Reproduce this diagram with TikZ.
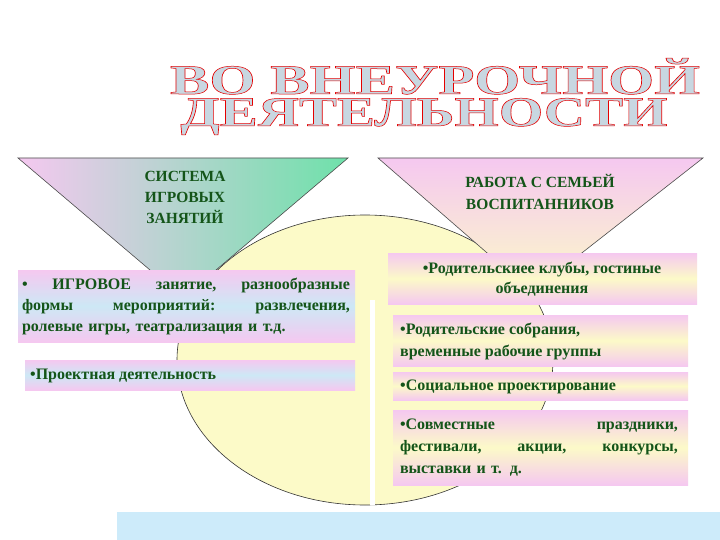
\documentclass[tikz,border=0pt]{standalone}
\usepackage{fontspec}
\setmainfont{Liberation Serif}
\usetikzlibrary{shadings}
\definecolor{tg}{RGB}{20,85,25}
\definecolor{pk}{RGB}{245,200,240}
\definecolor{lb}{RGB}{205,232,245}
\definecolor{yl}{RGB}{252,250,200}
\definecolor{tl}{RGB}{110,225,170}
\definecolor{bx}{RGB}{205,235,250}
\definecolor{tf}{RGB}{200,215,225}
\begin{document}
\begin{tikzpicture}[x=1pt,y=-1pt,
  txt/.style={text=tg,font=\bfseries\fontsize{16}{20}\selectfont,inner sep=0pt},
  lbox/.style={draw=none,top color=pk,bottom color=pk,middle color=lb},
  rbox/.style={draw=none,top color=pk,bottom color=pk,middle color=yl},
  tri/.style={draw=black!70,line width=0.6pt}]
\useasboundingbox (0,0) rectangle (720,540);
\fill[white] (0,0) rectangle (720,540);
% title
\node[inner sep=0pt,anchor=base] (t1) at (435,94) {\resizebox{530pt}{\height}{\fontsize{42}{42}\selectfont\color{tf}\special{pdf:code 2 Tr 0.5 w 0.9 0 0 RG}\bfseries ВО ВНЕУРОЧНОЙ\special{pdf:code 0 Tr}}};
\node[inner sep=0pt,anchor=base] (t2) at (424,126) {\resizebox{487pt}{\height}{\fontsize{42}{42}\selectfont\color{tf}\special{pdf:code 2 Tr 0.5 w 0.9 0 0 RG}\bfseries ДЕЯТЕЛЬНОСТИ\special{pdf:code 0 Tr}}};
% ellipse
\fill[yl] (365,360) ellipse [x radius=188, y radius=145];
\draw[black!80,line width=0.6pt] (365,360) ellipse [x radius=188, y radius=145];
\fill[white] (370,300) rectangle (375,505);
% triangles
\shade[shading angle=120,left color=pk,right color=tl] (18,158) -- (348,158) -- (183,298) -- cycle;
\draw[tri] (18,158) -- (348,158) -- (183,298) -- cycle;
\shade[top color=pk,bottom color=yl] (378,158) -- (703,158) -- (532,292) -- cycle;
\draw[tri] (378,158) -- (703,158) -- (532,292) -- cycle;
\node[txt,align=center,font=\bfseries\fontsize{15.5}{21}\selectfont] (tri1) at (185,197) {СИСТЕМА\\ИГРОВЫХ\\ЗАНЯТИЙ};
\node[txt,align=center,font=\bfseries\fontsize{15.5}{22}\selectfont] (tri2) at (540,192) {РАБОТА С СЕМЬЕЙ\\ВОСПИТАННИКОВ};
% left boxes
\shade[lbox] (18,270) rectangle (355,342);
\node[txt,text width=328pt,align=left,font=\bfseries\fontsize{16}{21}\selectfont] (l1) at (186,306) {•\hfill ИГРОВОЕ\hfill занятие,\hfill разнообразные\\формы\hfill мероприятий:\hfill развлечения,\\ролевые игры, театрализация и т.д.};
\shade[lbox] (25,360) rectangle (355,390);
\node[txt,anchor=west] (l2) at (30,376) {•Проектная деятельность};
% right boxes
\shade[rbox] (388,253) rectangle (697,304);
\node[txt,align=center,font=\bfseries\fontsize{16}{20}\selectfont] (r1) at (542,279) {•Родительскиее клубы, гостиные\\объединения};
\shade[rbox] (393,315) rectangle (688,366);
\node[txt,align=left,anchor=west,font=\bfseries\fontsize{16}{22}\selectfont] (r2) at (400,341) {•Родительские собрания,\\временные рабочие группы};
\shade[rbox] (393,372) rectangle (688,400);
\node[txt,anchor=west] (r3) at (400,387) {•Социальное проектирование};
\shade[rbox] (393,410) rectangle (688,485);
\node[txt,text width=278pt,align=left,font=\bfseries\fontsize{16}{22}\selectfont] (r4) at (539,448) {•Совместные\hfill праздники,\\фестивали,\hfill акции,\hfill конкурсы,\\выставки и т. д.};
% bottom bar
\fill[bx] (117,512) rectangle (720,540);
\end{tikzpicture}
\end{document}
